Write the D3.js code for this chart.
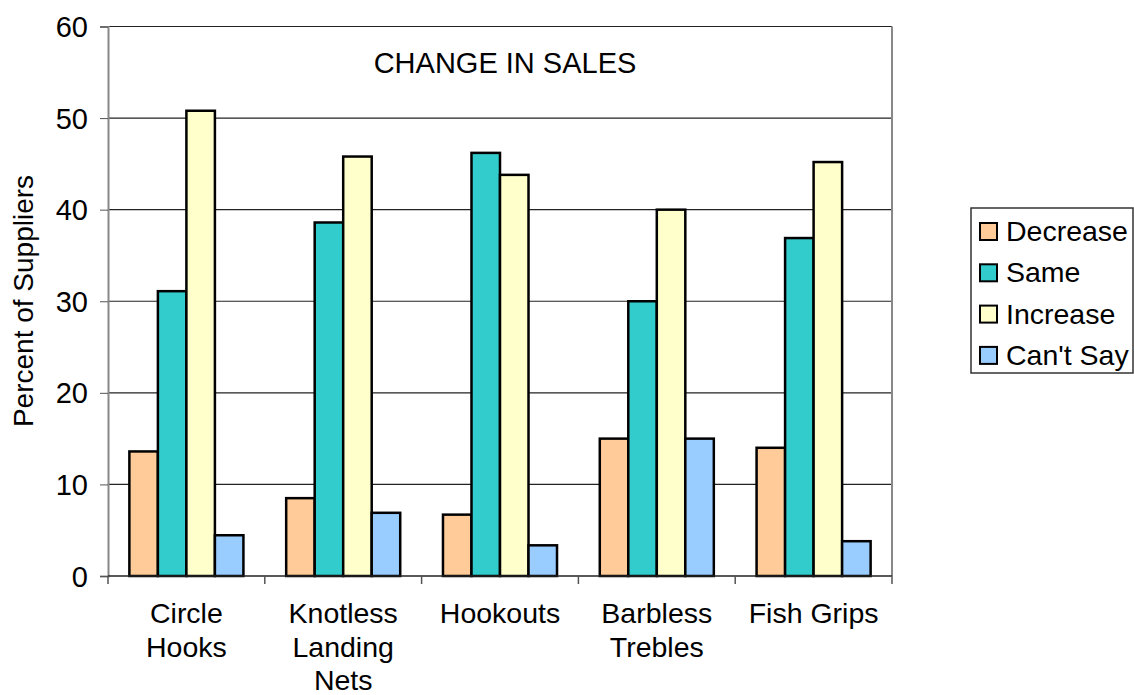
<!DOCTYPE html>
<html><head><meta charset="utf-8">
<script src="https://cdn.jsdelivr.net/npm/d3@7"></script>
<style>body{margin:0;background:#fff;} text{font-family:"Liberation Sans",Arial,sans-serif;fill:#000;}</style>
</head><body>
<svg id="c" width="1134" height="695"></svg>
<script>
const categories = [["Circle","Hooks"],["Knotless","Landing","Nets"],["Hookouts"],["Barbless","Trebles"],["Fish Grips"]];
const seriesNames = ["Decrease","Same","Increase","Can't Say"];
const decrease = [13.6, 8.5, 6.7, 15.0, 14.0];
const same = [31.1, 38.6, 46.2, 30.0, 36.9];
const increase = [50.8, 45.8, 43.8, 40.0, 45.2];
const cantSay = [4.45, 6.9, 3.35, 15.0, 3.8];
const yTicks = [0,10,20,30,40,50,60];
const colors = ["#FFCC99","#33CCCC","#FFFFCC","#99CCFF"];
const seriesVals = [decrease, same, increase, cantSay];

const svg = d3.select("#c");
const L=108, R=892, T=26.5, B=576;
const x0 = d3.scaleBand().domain(d3.range(categories.length)).range([L,R]).padding(0);
const x1 = d3.scaleBand().domain(d3.range(seriesNames.length)).range([0,x0.bandwidth()]).paddingInner(0).paddingOuter(0.75);
const y = d3.scaleLinear().domain([0,60]).range([B,T]);

// gridlines
svg.append("g").selectAll("line").data(yTicks.filter(d=>d>0)).join("line")
  .attr("x1",L).attr("x2",R).attr("y1",d=>y(d)).attr("y2",d=>y(d))
  .attr("stroke","#222").attr("stroke-width",1.2);
svg.append("line").attr("x1",R).attr("x2",R).attr("y1",T).attr("y2",B).attr("stroke","#888").attr("stroke-width",2);

// bars
const g = svg.append("g");
categories.forEach((c,i)=>{
  seriesVals.forEach((vals,s)=>{
    g.append("rect")
      .attr("x", x0(i)+x1(s)).attr("width", x1.bandwidth())
      .attr("y", y(vals[i])).attr("height", y(0)-y(vals[i]))
      .attr("fill", colors[s]).attr("stroke","#000").attr("stroke-width",2.5);
  });
});

// y axis
const ya = svg.append("g").attr("transform",`translate(${L},0)`)
  .call(d3.axisLeft(y).tickValues(yTicks).tickSize(8).tickPadding(12).tickFormat(d3.format("d")));
ya.select(".domain").attr("stroke","#888").attr("stroke-width",2);
ya.selectAll(".tick line").attr("stroke","#555");
ya.selectAll("text").style("font-size","29px").attr("dy","0.35em");

// x axis
const boundaries = d3.range(categories.length+1).map(i=> i<categories.length ? x0(i) : R);
svg.append("line").attr("x1",L).attr("x2",R).attr("y1",B).attr("y2",B).attr("stroke","#222").attr("stroke-width",1.5);
svg.append("g").selectAll("line").data(boundaries).join("line")
  .attr("x1",d=>d).attr("x2",d=>d).attr("y1",B).attr("y2",B+8).attr("stroke","#555").attr("stroke-width",1.5);
const xl = svg.append("g").selectAll("text").data(categories).join("text")
  .attr("x",(d,i)=>x0(i)+x0.bandwidth()/2).attr("y",623)
  .attr("text-anchor","middle").style("font-size","28.5px");
xl.each(function(d){
  const t=d3.select(this);
  d.forEach((line,k)=>t.append("tspan").attr("x",t.attr("x")).attr("y",623+k*33.5).text(line));
});

// title
svg.append("text").attr("x",505).attr("y",73).attr("text-anchor","middle").style("font-size","29px").text("CHANGE IN SALES");

// y axis title
svg.append("text").attr("transform","translate(33,301) rotate(-90)").attr("text-anchor","middle")
  .style("font-size","28px").text("Percent of Suppliers");

// legend
const lg = svg.append("g");
lg.append("rect").attr("x",971).attr("y",208).attr("width",162).attr("height",165)
  .attr("fill","#fff").attr("stroke","#333").attr("stroke-width",1.5);
seriesNames.forEach((n,i)=>{
  const cy = 231 + i*41.3;
  lg.append("rect").attr("x",980).attr("y",cy-8).attr("width",17).attr("height",17)
    .attr("fill",colors[i]).attr("stroke","#000").attr("stroke-width",2);
  lg.append("text").attr("x",1006).attr("y",cy+10).style("font-size","28.5px").text(n);
});
</script>
</body></html>
